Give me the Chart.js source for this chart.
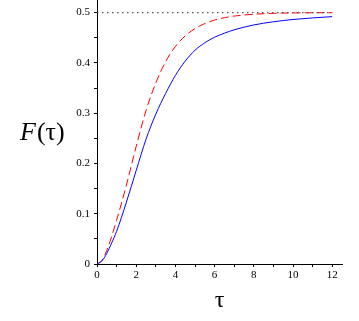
<!DOCTYPE html>
<html>
<head>
<meta charset="utf-8">
<script src="https://cdn.jsdelivr.net/npm/chart.js@4.4.1/dist/chart.umd.min.js"></script>
<style>
html,body{margin:0;padding:0;background:#fff;}
#wrap{width:359px;height:321px;}
</style>
</head>
<body>
<div id="wrap"><canvas id="c" width="359" height="321"></canvas></div>
<script>
// ---- data ----
const tau = [0,0.25,0.5,0.75,1,1.5,2,2.5,3,3.5,4,4.5,5,5.5,6,6.5,7,8,9,10,11,12];
const blueF = [0,0.006,0.021,0.042,0.065,0.123,0.186,0.248,0.298,0.339,0.375,0.4035,0.425,0.440,0.451,0.459,0.4657,0.4754,0.4817,0.4862,0.4894,0.4919];
const redF  = [0,0.007,0.027,0.055,0.087,0.157,0.234,0.305,0.360,0.4023,0.4325,0.4536,0.4681,0.4782,0.4851,0.4898,0.4930,0.4967,0.4985,0.4993,0.4997,0.4998];
const limitTau = [0,12];
const limitF = [0.5,0.5];
const xTickValues = [0,1,2,3,4,5,6,7,8,9,10,11,12];
const yTickValues = [0,0.05,0.1,0.15,0.2,0.25,0.3,0.35,0.4,0.45,0.5];
const yTickLabels = ['0','','0.1','','0.2','','0.3','','0.4','','0.5'];

const pts = (xs, ys) => xs.map((x, i) => ({x: x, y: ys[i]}));
const serif = '"Liberation Serif", "DejaVu Serif", serif';

const yTitlePlugin = {
  id: 'yTitle',
  afterDraw(chart) {
    const ctx = chart.ctx;
    ctx.save();
    ctx.fillStyle = '#000';
    ctx.textBaseline = 'alphabetic';
    ctx.textAlign = 'left';
    ctx.font = 'italic 26px ' + serif;
    const fx = 20, base = 140;
    ctx.fillText('F', fx, base);
    const w = ctx.measureText('F').width;
    ctx.font = '26px ' + serif;
    ctx.fillText('(\u03c4)', fx + w + 1, base);
    ctx.restore();
  }
};

new Chart(document.getElementById('c'), {
  type: 'scatter',
  data: {
    datasets: [
      {
        data: pts(limitTau, limitF),
        showLine: true,
        borderColor: '#555555',
        borderWidth: 1.2,
        borderDash: [1.5, 3.5],
        pointRadius: 0
      },
      {
        data: pts(tau, blueF),
        showLine: true,
        borderColor: '#0000ff',
        borderWidth: 1,
        pointRadius: 0,
        cubicInterpolationMode: 'monotone'
      },
      {
        data: pts(tau, redF),
        showLine: true,
        borderColor: '#ff0000',
        borderWidth: 1,
        borderDash: [8, 4],
        pointRadius: 0,
        cubicInterpolationMode: 'monotone'
      }
    ]
  },
  options: {
    responsive: false,
    animation: false,
    devicePixelRatio: 1,
    layout: {autoPadding: false, padding: {left: 0, right: 17, top: 0, bottom: 0}},
    plugins: {legend: {display: false}, tooltip: {enabled: false}},
    scales: {
      x: {
        type: 'linear',
        min: 0,
        max: 12.5,
        afterBuildTicks(scale) {
          scale.ticks = xTickValues.map(v => ({value: v})).concat([{value: 12.5}]);
        },
        afterFit(scale) {
          scale.height = 57;
          scale.paddingLeft = 0; scale.paddingRight = 0;
        },
        ticks: {
          autoSkip: false,
          maxRotation: 0,
          padding: 2,
          color: '#000',
          font: {family: serif, size: 11},
          callback(v) {
            if (v === 12.5) return null;
            return (v % 2 === 0) ? String(v) : '';
          }
        },
        grid: {drawOnChartArea: false, tickLength: 3, color: '#000', lineWidth: 1},
        border: {color: '#000', width: 1},
        title: {
          display: true,
          text: '\u03c4',
          color: '#000',
          font: {family: serif, size: 24},
          padding: {top: 4, bottom: 6}
        }
      },
      y: {
        type: 'linear',
        min: 0,
        max: 0.525,
        afterBuildTicks(scale) {
          scale.ticks = yTickValues.map(v => ({value: v})).concat([{value: 0.525}]);
        },
        afterFit(scale) {
          scale.width = 97;
          scale.paddingTop = 0; scale.paddingBottom = 0;
        },
        ticks: {
          autoSkip: false,
          padding: 4,
          color: '#000',
          font: {family: serif, size: 11},
          callback(v, i) {
            if (i >= yTickLabels.length) return null;
            return yTickLabels[i];
          }
        },
        grid: {drawOnChartArea: false, tickLength: 3, color: '#000', lineWidth: 1},
        border: {color: '#000', width: 1}
      }
    }
  },
  plugins: [yTitlePlugin]
});
</script>
</body>
</html>
